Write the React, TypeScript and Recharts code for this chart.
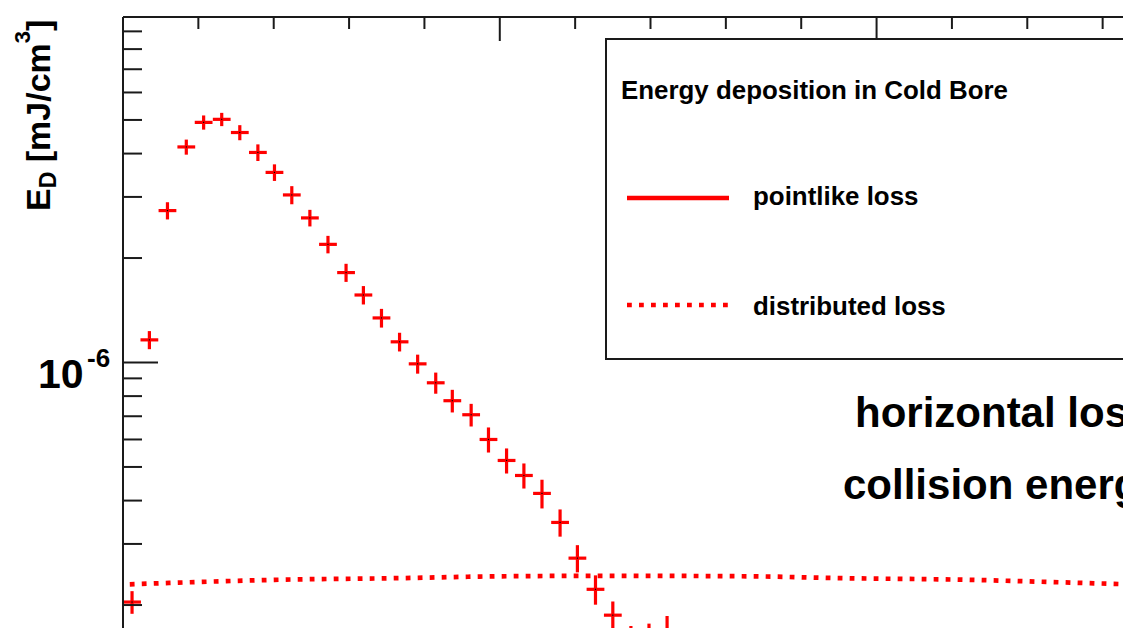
import React from 'react';
import { ComposedChart, Scatter, Line, XAxis, YAxis, ErrorBar, Legend } from 'recharts';

// bin centres (x) of the pointlike-loss histogram
const binCenters = [
  0.12, 0.35, 0.59, 0.84, 1.07, 1.31, 1.55, 1.79, 2.01, 2.24, 2.48, 2.72, 2.96, 3.19, 3.43, 3.67,
  3.91, 4.15, 4.37, 4.62, 4.85, 5.09, 5.32, 5.56, 5.8, 6.03, 6.27, 6.5, 6.74, 6.98, 7.22,
];
// E_D in units of 1e-6 mJ/cm^3
const pointlikeLoss = [
  0.204, 1.162, 2.74, 4.18, 4.92, 5.02, 4.6, 4.03, 3.53, 3.04, 2.61, 2.19, 1.816, 1.565, 1.344, 1.147,
  0.991, 0.874, 0.776, 0.707, 0.6, 0.522, 0.4725, 0.4195, 0.346, 0.273, 0.222, 0.187, 0.1575, 0.16, 0.155,
];
// relative error of each bin, percent
const pointlikeRelErr = [
  7.5, 6, 5.7, 5, 4.7, 4.4, 5, 5.5, 5.5, 6, 5.5, 5.8, 6, 6.1, 6.2, 6.2,
  6.3, 7, 7.5, 7.5, 8.3, 8.3, 8.3, 9.5, 9, 9, 9.7, 9.5, 10.5, 10.5, 20,
];
const BIN_HALF_WIDTH = 0.118;

// distributed loss curve, E_D in units of 1e-6 mJ/cm^3
const distributedX = [0.09, 0.88, 2.01, 3.67, 5.0, 6.51, 8.32, 9.51, 11.24, 12.43, 13.27, 14.0];
const distributedLoss = [0.2295, 0.2326, 0.2364, 0.2391, 0.242, 0.2428, 0.242, 0.2391, 0.2364, 0.2326, 0.2298, 0.228];

const xTicks = [1, 2, 3, 4, 5, 6, 7, 8, 9, 10, 11, 12, 13];
const yTicks = [
  2e-7, 3e-7, 4e-7, 5e-7, 6e-7, 7e-7, 8e-7, 9e-7,
  1e-6, 2e-6, 3e-6, 4e-6, 5e-6, 6e-6, 7e-6, 8e-6, 9e-6,
];
const legendOrder = ['pointlike loss', 'distributed loss'];

const FONT = "'Liberation Sans', Arial, Helvetica, sans-serif";
const RED = '#ff0000';
const INK = '#1a1a1a';

const pointRows = binCenters.map((x, i) => {
  const v = pointlikeLoss[i] * 1e-6;
  return { x, y: v, ey: (v * pointlikeRelErr[i]) / 100, ex: BIN_HALF_WIDTH };
});
const distRows = distributedX.map((x, i) => ({ x, y: distributedLoss[i] * 1e-6 }));

const XTick = ({ x, y, payload }: any) => {
  const major = payload.value % 5 === 0;
  return <line x1={x} x2={x} y1={y} y2={y + (major ? 24 : 12)} stroke={INK} strokeWidth={2} />;
};

const YTick = ({ x, y, payload }: any) => {
  const exp = Math.log10(payload.value);
  const major = Math.abs(exp - Math.round(exp)) < 1e-6;
  return (
    <g>
      <line x1={x} x2={x + (major ? 35 : 19)} y1={y} y2={y} stroke={INK} strokeWidth={2} />
      {major && (
        <text fontFamily={FONT} fontWeight="bold" fill="#000">
          <tspan x={x - 85} y={y + 25.5} fontSize={41}>10</tspan>
          <tspan x={x - 36} y={y + 4.5} fontSize={26}>{Math.round(exp)}</tspan>
        </text>
      )}
    </g>
  );
};

const YLabel = () => (
  <text
    transform="rotate(-90 50 211)" x={50} y={211}
    fontFamily={FONT} fontWeight="bold" fontSize={34} fill="#000" style={{ whiteSpace: 'pre' }}
  >
    E<tspan dy={6} fontSize={23}>D</tspan>
    <tspan dy={-6}> [mJ/cm</tspan>
    <tspan dy={-20} fontSize={22}>3</tspan>
    <tspan dy={20}>]</tspan>
  </text>
);

const CenterDot = ({ cx, cy }: any) => (
  <rect x={cx - 0.6} y={cy - 0.6} width={1.2} height={1.2} fill="#000" />
);

const renderLegend = ({ payload }: any) => {
  const items = [...(payload ?? [])]
    .filter((p: any) => legendOrder.includes(p.value))
    .sort((a: any, b: any) => legendOrder.indexOf(a.value) - legendOrder.indexOf(b.value));
  return (
    <svg width={620} height={324} style={{ overflow: 'visible', display: 'block' }}>
      <rect x={1} y={1} width={640} height={320} fill="#fff" stroke={INK} strokeWidth={2} />
      <text x={16} y={61} fontFamily={FONT} fontWeight="bold" fontSize={25.9} fill="#000">
        Energy deposition in Cold Bore
      </text>
      {items.map((it: any, i: number) => (
        <g key={it.value}>
          <line
            x1={22} x2={124} y1={160 + i * 107} y2={160 + i * 107}
            stroke={RED} strokeWidth={4.6}
            strokeDasharray={it.value === 'distributed loss' ? '4.8 7.2' : undefined}
          />
          <text x={148} y={167 + i * 110} fontFamily={FONT} fontWeight="bold" fontSize={25.9} fill="#000">
            {it.value}
          </text>
        </g>
      ))}
    </svg>
  );
};

export default function App() {
  return (
    <div style={{ position: 'absolute', left: 0, top: 0, width: 1123, height: 628, overflow: 'hidden', background: '#fff' }}>
      <ComposedChart width={1200} height={760} margin={{ top: 0, right: 22, bottom: 50.5, left: 0 }}>
        <XAxis
          dataKey="x" type="number" orientation="top" height={17}
          domain={[0, 14]} allowDataOverflow ticks={xTicks} interval={0}
          tick={<XTick />} tickLine={false} tickSize={0} tickMargin={0}
          axisLine={{ stroke: INK, strokeWidth: 2 }}
        />
        <YAxis
          dataKey="y" type="number" scale="log" width={123}
          domain={[1e-7, 9.9e-6]} allowDataOverflow ticks={yTicks} interval={0}
          tick={<YTick />} tickLine={false} tickSize={0} tickMargin={0}
          axisLine={{ stroke: INK, strokeWidth: 2 }}
          label={{ content: <YLabel /> }}
        />
        <Legend
          content={renderLegend}
          wrapperStyle={{ position: 'absolute', left: 605, top: 38, width: 0, height: 0 }}
        />
        <Line
          name="distributed loss" data={distRows} dataKey="y" type="monotone"
          stroke={RED} strokeWidth={4.7} strokeDasharray="4.8 7.2" dot={false}
          activeDot={false} isAnimationActive={false}
        />
        <Scatter
          name="pointlike loss" data={pointRows} dataKey="y" fill={RED}
          shape={<CenterDot />} isAnimationActive={false}
        >
          <ErrorBar dataKey="ey" direction="y" width={0} stroke={RED} strokeWidth={3.2} />
          <ErrorBar dataKey="ex" direction="x" width={0} stroke={RED} strokeWidth={3.2} />
        </Scatter>
      </ComposedChart>
      <svg
        width={1123} height={628}
        style={{ position: 'absolute', left: 0, top: 0, pointerEvents: 'none' }}
        fontFamily={FONT} fontWeight="bold" fontSize={42} fill="#000"
      >
        <text x={855} y={427}>horizontal loss</text>
        <text x={843} y={499}>collision energy</text>
      </svg>
    </div>
  );
}
